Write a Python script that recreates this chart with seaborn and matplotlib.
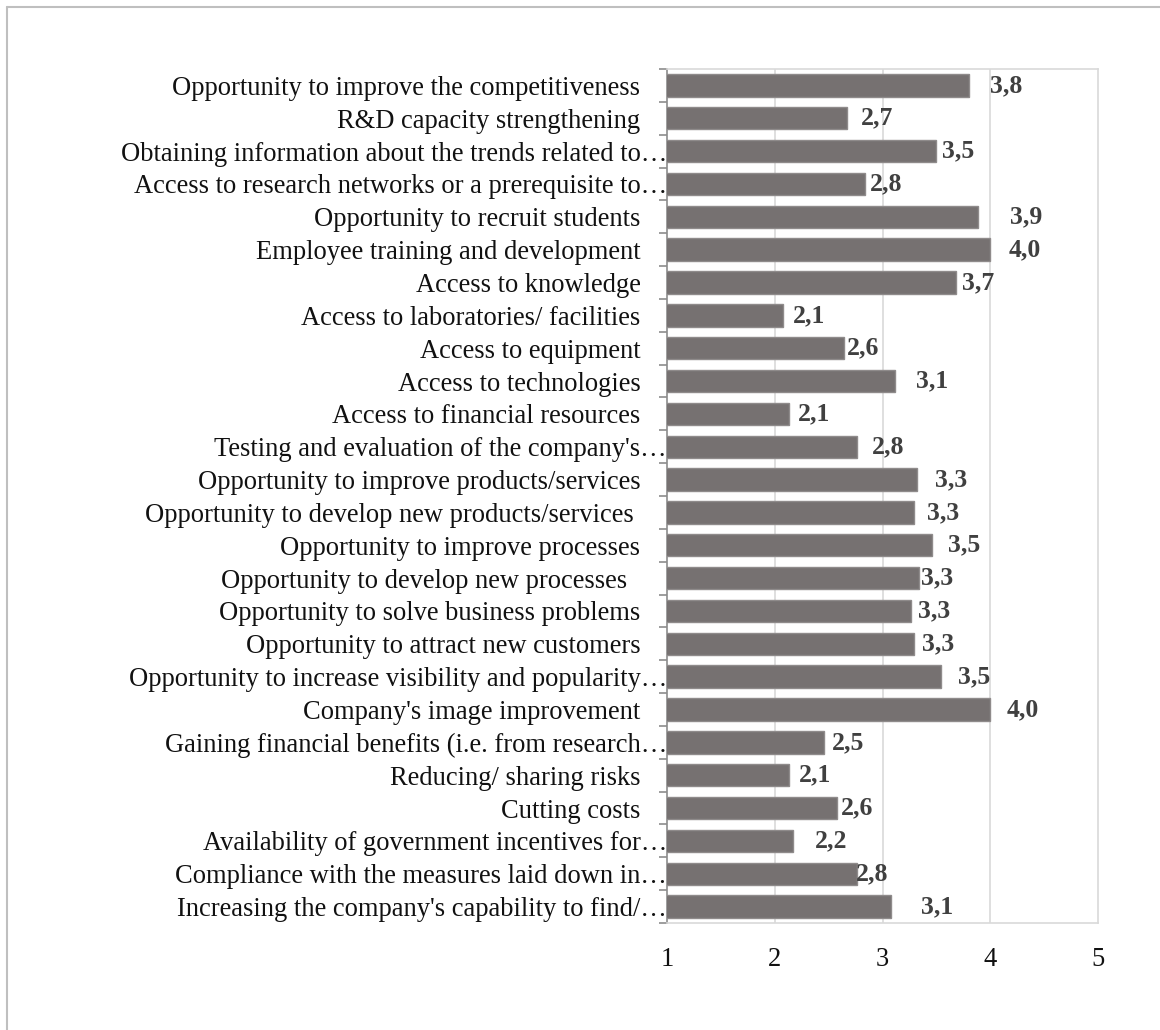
import matplotlib
matplotlib.use("Agg")
import matplotlib.pyplot as plt
from matplotlib.lines import Line2D
from matplotlib.ticker import FixedLocator
import seaborn as sns
import pandas as pd

# Motives for cooperation, mean scores on a 1-5 scale (top to bottom)
categories = [
    "Opportunity to improve the competitiveness    ",
    "R&D capacity strengthening    ",
    "Obtaining information about the trends related to…",
    "Access to research networks or a prerequisite to…",
    "Opportunity to recruit students    ",
    "Employee training and development    ",
    "Access to knowledge    ",
    "Access to laboratories/ facilities    ",
    "Access to equipment    ",
    "Access to technologies    ",
    "Access to financial resources    ",
    "Testing and evaluation of the company's…",
    "Opportunity to improve products/services    ",
    "Opportunity to develop new products/services     ",
    "Opportunity to improve processes    ",
    "Opportunity to develop new processes      ",
    "Opportunity to solve business problems    ",
    "Opportunity to attract new customers    ",
    "Opportunity to increase visibility and popularity…",
    "Company's image improvement    ",
    "Gaining financial benefits (i.e. from research…",
    "Reducing/ sharing risks    ",
    "Cutting costs    ",
    "Availability of government incentives for…",
    "Compliance with the measures laid down in…",
    "Increasing the company's capability to find/…",
]
scores = [3.80, 2.67, 3.50, 2.84, 3.89, 4.00, 3.68, 2.08, 2.64, 3.12, 2.13,
          2.76, 3.32, 3.29, 3.46, 3.34, 3.26, 3.29, 3.54, 4.00, 2.46, 2.13,
          2.58, 2.17, 2.76, 3.08]

# horizontal nudge of each value label from the bar end (pixels)
label_nudge_px = [21, 14, 6, 5, 32, 18, 6, 10, 3, 21, 9, 15, 18, 13, 16, 2,
                  7, 8, 17, 16, 8, 10, 4, 22, -1, 30]

x_ticks = [1, 2, 3, 4, 5]

df = pd.DataFrame({"motive": categories, "score": scores})

sns.set_theme(style="white")
plt.rcParams["font.family"] = ["Liberation Serif", "DejaVu Serif"]

W, H, DPI = 1160, 1030, 100
fig = plt.figure(figsize=(W / DPI, H / DPI), dpi=DPI)
ax = fig.add_axes([667 / W, 1 - 923 / H, (1098 - 667) / W, (923 - 69) / H])

sns.barplot(data=df, x="score", y="motive", orient="h", ax=ax,
            color="#767171", saturation=1, width=0.68,
            edgecolor="#8f8b8b", linewidth=1.0, zorder=3)

ax.set_xlim(1, 5)
ax.set_ylim(len(categories) - 0.5, -0.5)
ax.set_xticks(x_ticks)
ax.set_xticklabels([str(t) for t in x_ticks])
ax.set_xlabel("")
ax.set_ylabel("")

# grid and frame
for gx in x_ticks[1:-1]:
    ax.axvline(gx, color="#d9d9d9", lw=1.2, zorder=1)
for side in ("top", "right", "bottom"):
    ax.spines[side].set_color("#d9d9d9")
    ax.spines[side].set_linewidth(1.2)
ax.spines["left"].set_color("#8c8c8c")
ax.spines["left"].set_linewidth(1.2)

# category boundary ticks on the left axis
ax.yaxis.set_minor_locator(FixedLocator([i - 0.5 for i in range(len(categories) + 1)]))
ax.tick_params(axis="y", which="major", length=0, pad=0, labelsize=19.1, labelcolor="#111111")
ax.tick_params(axis="y", which="minor", length=5.5, width=1.2, color="#8c8c8c", left=True)
ax.tick_params(axis="x", which="major", length=0, pad=17, labelsize=19.1, labelcolor="#111111")

# value labels
for i, (v, nudge) in enumerate(zip(scores, label_nudge_px)):
    ax.annotate(f"{v:.1f}".replace(".", ","), xy=(v, i),
                xytext=(nudge * 72 / DPI, 0), textcoords="offset points",
                ha="left", va="center", fontsize=18.5, fontweight="bold",
                color="#404040", zorder=4)

# outer chart frame
fig.add_artist(Line2D([7 / W, 1.0], [1 - 7 / H, 1 - 7 / H], color="#bfbfbf", lw=1.5))
fig.add_artist(Line2D([7 / W, 7 / W], [0.0, 1 - 7 / H], color="#bfbfbf", lw=1.5))

fig.savefig("out.png", dpi=DPI, facecolor="white")
